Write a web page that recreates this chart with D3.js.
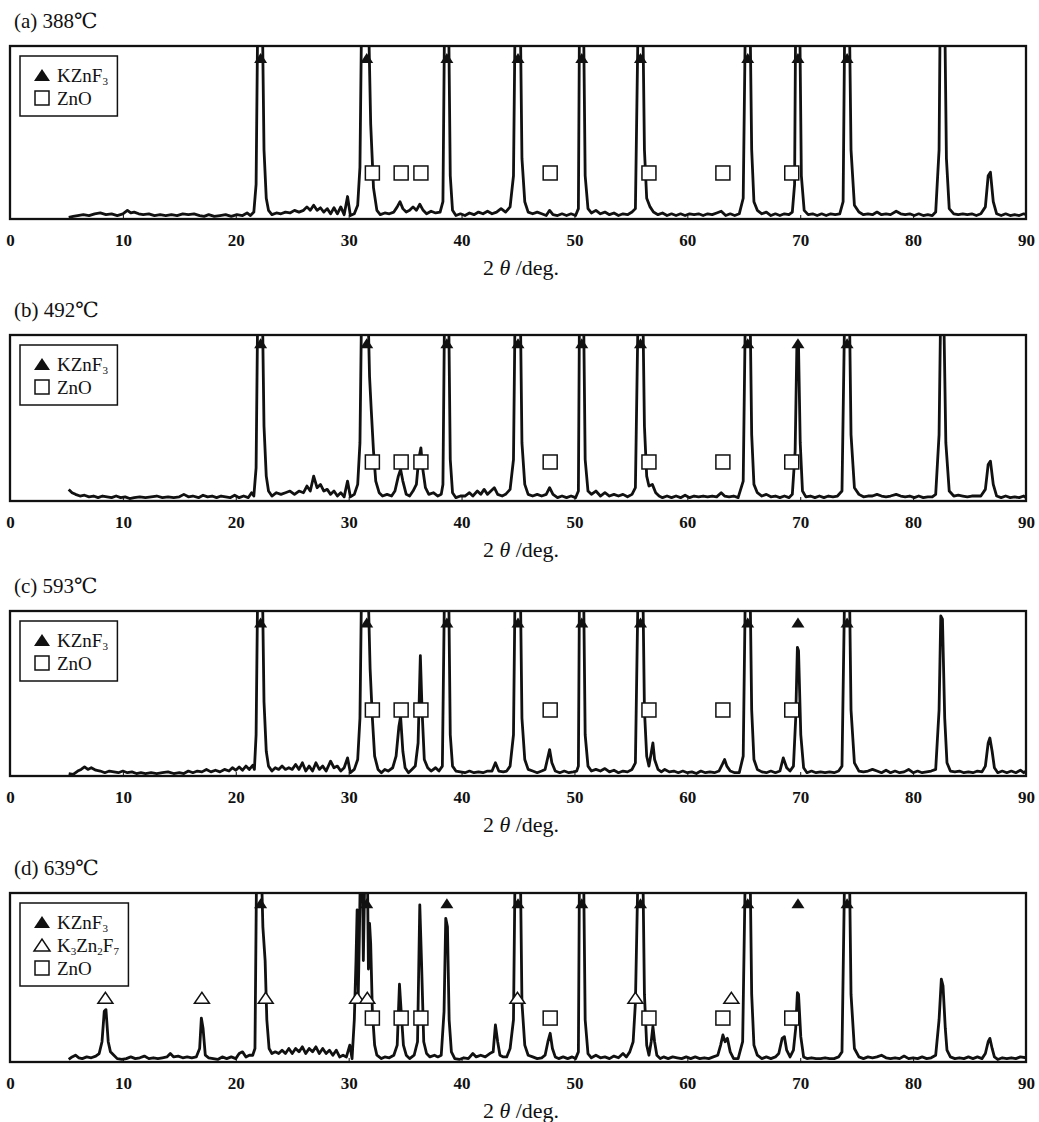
<!DOCTYPE html>
<html>
<head>
<meta charset="utf-8">
<script src="https://cdn.jsdelivr.net/npm/d3@7"></script>
<style>
  body { margin: 0; background: #fff; }
  text { font-family: "Liberation Serif", "DejaVu Serif", serif; fill: #111; }
</style>
</head>
<body>
<svg></svg>
<script>
// XRD patterns: [2theta (deg), intensity (% of frame height)]
var specA = [[5.2,1],[5.6,1.5],[6,2],[6.5,2.5],[7,2],[7.5,3],[8,3.5],[8.5,2.5],[9,3],[9.5,2],[10,3],[10.4,5],[10.7,3.5],[11,4],[11.4,3],[11.8,2.5],[12.3,3],[12.8,2],[13.3,2.5],[13.8,2],[14.3,2.5],[14.8,2],[15.3,3],[15.8,2.5],[16.3,3],[16.8,2],[17.2,1.5],[17.6,2.5],[18.1,1.5],[18.6,2],[19.1,2.5],[19.6,1.5],[20.1,2.5],[20.6,2],[21,3.5],[21.3,2],[21.6,4],
  [21.8,20],[21.95,120],[22.35,120],[22.5,40],[22.7,12],[22.9,5],[23.2,2.5],[23.6,3.5],[24.0,3],[24.4,4],[24.8,3.5],[25.2,5],[25.6,4],[26.0,5],[26.3,7],[26.6,5],[26.9,8],[27.2,5],[27.5,6.5],[27.8,4],[28.1,6],[28.4,3],[28.7,6.5],[29.0,3],[29.3,7],[29.6,2.5],[29.9,13],[30.15,2],[30.5,3],
  [30.8,8],[31.0,30],[31.15,120],[31.75,120],[31.95,55],[32.2,18],[32.5,5],[32.8,2.5],[33.2,3.5],[33.6,3],
  [34.0,4],[34.3,7],[34.55,10],[34.8,6],[35.1,4],[35.4,5],[35.7,7],[36.0,5],[36.3,8.5],[36.6,5],[36.9,3],[37.3,4.5],[37.7,3.5],[38.1,4],[38.35,10],
  [38.5,120],[38.85,120],[39.0,25],[39.2,5],[39.5,2],[39.9,3],[40.3,2],[40.7,3.5],[41.1,2.5],[41.5,4],[41.9,3],[42.3,4.5],[42.7,3],[43.1,4],[43.5,6],[43.9,4],[44.3,7],
  [44.6,25],[44.75,120],[45.2,120],[45.35,35],[45.6,10],[45.9,4],[46.3,3],[46.7,4],[47.1,3],[47.5,2],[47.8,5],[48.1,2.5],[48.5,2],[48.9,3],[49.3,2],[49.7,3],[50.1,2],[50.35,6],
  [50.45,120],[50.8,120],[50.95,25],[51.2,6],[51.5,3.5],[51.9,5],[52.3,3],[52.7,4],[53.1,2.5],[53.5,3.5],[53.9,2],[54.3,3],[54.7,2.5],[55.1,4],[55.4,6],
  [55.65,120],[56.05,120],[56.2,40],[56.4,12],[56.7,7],[57.0,4],[57.4,2.5],[57.8,3.5],[58.2,2],[58.6,3],[59.0,2],[59.4,3],[59.8,2],[60.2,3],[60.6,2.5],[61.0,3],[61.4,2],[61.8,3],[62.2,2.5],[62.6,3.5],[63.0,4.5],[63.4,2],[63.8,3],[64.2,2],[64.6,3],
  [64.95,12],[65.15,120],[65.55,120],[65.7,40],[65.9,10],[66.2,5],[66.6,3],[67.0,4],[67.4,2],[67.8,3],[68.2,2],[68.6,3],[69.0,2.5],[69.3,4],[69.5,20],
  [69.6,120],[69.95,120],[70.1,25],[70.35,5],[70.7,2.5],[71.1,3],[71.5,2],[71.9,3],[72.3,2],[72.7,3],[73.1,2.5],[73.5,3],[73.8,10],
  [73.95,120],[74.35,120],[74.5,40],[74.8,8],[75.2,4],[75.6,2.5],[76.0,3],[76.4,2.5],[76.8,4],[77.2,2.5],[77.6,3],[78.0,2.5],[78.5,4.5],[78.9,3],[79.3,2.5],[79.7,3],[80.1,2],[80.5,3],[80.9,2],[81.3,2.5],[81.7,2],[82.0,4],
  [82.3,40],[82.4,120],[82.8,120],[82.95,35],[83.2,6],[83.6,3],[84.0,2.5],[84.4,3],[84.8,2.5],[85.2,3],[85.6,2],[86.0,3],[86.4,7],[86.65,25],[86.85,27],[87.1,10],[87.4,3],[87.8,2],[88.2,3],[88.6,2],[89.0,2.5],[89.4,2],[89.8,3],[90,2.5]];

var specB = [[5.2,7],[5.5,5],[5.8,4],[6.2,3],[6.6,3.5],[7.0,2.5],[7.4,3],[7.8,2],[8.2,3],[8.6,2.5],[9.0,2],[9.4,3],[9.8,2],[10.2,2.5],[10.6,1.5],[11.0,2],[11.5,2.5],[12.0,2],[12.5,2.5],[13.0,3],[13.5,2],[14.0,2.5],[14.5,2],[15.0,2.5],[15.4,4],[15.8,2.5],[16.2,3],[16.7,2],[17.1,3.5],[17.5,2.5],[17.9,3],[18.3,2],[18.7,3],[19.1,2.5],[19.5,2],[19.9,3.5],[20.3,2],[20.7,3],[21.1,2],[21.4,5],[21.6,3],
  [21.8,20],[21.95,120],[22.35,120],[22.5,45],[22.7,15],[22.9,6],[23.2,3],[23.6,5],[24.0,4],[24.4,5],[24.8,6],[25.2,4],[25.6,6],[26.0,5],[26.3,9],[26.6,6],[26.9,15],[27.2,8],[27.5,10],[27.8,6],[28.1,7],[28.4,4],[28.7,6],[29.0,3],[29.3,5],[29.6,2.5],[29.9,12],[30.15,2.5],[30.5,4],
  [30.8,10],[31.0,35],[31.15,120],[31.7,120],[31.85,75],[32.0,55],[32.2,30],[32.4,12],[32.7,5],[33.0,3],[33.4,4],[33.8,3],
  [34.1,6],[34.4,15],[34.6,19],[34.8,12],[35.1,4],[35.4,3],[35.7,6],[36.0,10],[36.2,25],[36.4,32],[36.55,20],[36.8,8],[37.1,4],[37.5,5],[37.9,3],[38.2,4],[38.35,10],
  [38.5,120],[38.85,120],[39.0,25],[39.2,5],[39.5,2],[39.9,3],[40.3,3],[40.7,5],[41.0,3],[41.4,6],[41.7,4],[42.0,7],[42.3,4],[42.6,6],[42.9,8],[43.2,4],[43.6,3],[43.9,4],[44.3,7],
  [44.6,25],[44.75,120],[45.2,120],[45.35,35],[45.6,10],[45.9,4],[46.3,3],[46.7,4],[47.1,3],[47.5,4],[47.8,8],[48.1,4],[48.5,2],[48.9,3],[49.3,2],[49.7,3],[50.1,2],[50.35,6],
  [50.45,120],[50.8,120],[50.95,25],[51.2,6],[51.5,4],[51.9,6],[52.3,3],[52.7,5],[53.1,3],[53.5,4],[53.9,3],[54.3,4],[54.7,2.5],[55.1,4],[55.4,8],
  [55.65,120],[56.05,120],[56.2,45],[56.4,15],[56.6,9],[56.9,10],[57.2,5],[57.5,3],[57.8,2],[58.2,3],[58.6,2],[59.0,3],[59.4,2],[59.8,3.5],[60.2,2],[60.6,3],[61.0,2.5],[61.4,3],[61.8,2.5],[62.2,3],[62.6,2.5],[63.0,5],[63.3,3],[63.7,2.5],[64.1,3],[64.5,2],
  [64.95,12],[65.15,120],[65.55,120],[65.7,40],[65.9,10],[66.2,5],[66.6,3],[67.0,4],[67.4,2.5],[67.8,3],[68.2,2],[68.6,3],[69.0,2],[69.3,4],[69.55,30],
  [69.7,92],[69.85,93],[70.0,35],[70.2,6],[70.5,2.5],[70.9,3],[71.3,2],[71.7,3],[72.1,2],[72.5,3],[72.9,2.5],[73.3,3],[73.7,6],
  [73.95,120],[74.35,120],[74.5,40],[74.8,8],[75.2,4],[75.6,2.5],[76.0,3],[76.4,3],[76.8,4],[77.2,3],[77.6,2.5],[78.0,3],[78.5,4],[78.9,3],[79.3,2.5],[79.7,3],[80.1,2],[80.5,3],[80.9,2],[81.3,2.5],[81.7,2.5],[82.0,4],
  [82.3,40],[82.45,120],[82.7,120],[82.9,35],[83.2,6],[83.6,3],[84.0,3.5],[84.4,3],[84.8,2.5],[85.2,3],[85.6,3],[86.0,3],[86.4,7],[86.65,22],[86.85,24],[87.1,10],[87.4,3],[87.8,2],[88.2,3],[88.6,2],[89.0,2.5],[89.4,2],[89.8,3],[90,2]];

var specC = [[5.2,1.5],[5.6,1],[6.0,3],[6.3,4],[6.6,5.5],[6.9,4],[7.2,5],[7.6,3.5],[8.0,3],[8.4,2],[8.8,3],[9.2,2.5],[9.6,2],[10.0,3],[10.4,2],[10.8,2.5],[11.2,1.5],[11.6,2],[12.0,1.5],[12.5,2],[13.0,1.5],[13.5,2],[14.0,2.5],[14.5,1.5],[15.0,2],[15.4,1.5],[15.8,3],[16.2,2],[16.6,3],[17.0,2.5],[17.4,4],[17.8,2.5],[18.2,3.5],[18.6,2.5],[19.0,4],[19.4,3],[19.7,5],[20.0,3.5],[20.3,5.5],[20.6,3.5],[20.9,6],[21.2,4],[21.5,6.5],[21.65,4],
  [21.8,25],[21.95,120],[22.35,120],[22.5,45],[22.7,15],[22.9,6],[23.2,3],[23.5,5],[23.8,4],[24.1,6],[24.4,4],[24.7,5],[25.0,4],[25.3,7],[25.6,4],[25.9,8],[26.2,3],[26.5,6],[26.8,3],[27.1,8],[27.4,4],[27.7,6],[28.0,3],[28.4,9],[28.7,5],[29.0,6],[29.3,3],[29.6,5],[29.9,11],[30.15,2],[30.5,4],
  [30.8,10],[31.0,35],[31.15,120],[31.7,120],[31.9,65],[32.1,35],[32.3,12],[32.6,4],[32.9,2],[33.2,4],[33.5,3],
  [33.9,5],[34.2,12],[34.45,30],[34.6,36],[34.8,15],[35.0,5],[35.3,2],[35.6,4],[35.9,6],[36.15,20],[36.35,73],[36.5,40],[36.7,10],[37.0,5],[37.3,3],[37.7,5],[38.0,3],[38.3,6],
  [38.5,120],[38.85,120],[39.0,25],[39.2,6],[39.5,3],[39.9,2.5],[40.3,2],[40.7,3],[41.1,2],[41.5,2.5],[41.9,2],[42.3,3],[42.7,3],[43.0,8],[43.3,3],[43.7,2.5],[44.0,3],[44.3,6],
  [44.6,25],[44.75,120],[45.2,120],[45.35,35],[45.6,10],[45.9,4],[46.3,3],[46.7,2],[47.1,3],[47.4,4],[47.6,10],[47.8,16],[48.0,8],[48.3,3],[48.7,2],[49.1,3],[49.5,2],[49.9,2.5],[50.2,3],[50.35,6],
  [50.45,120],[50.8,120],[50.95,25],[51.2,6],[51.5,3],[51.9,4],[52.3,3],[52.7,4.5],[53.1,2.5],[53.5,3.5],[53.9,2],[54.3,3],[54.7,2.5],[55.1,4],[55.4,8],
  [55.65,120],[56.05,120],[56.2,40],[56.4,12],[56.6,6],[56.8,14],[56.95,20],[57.1,10],[57.4,4],[57.7,2.5],[58.0,4],[58.4,2.5],[58.8,3],[59.2,2],[59.6,3],[60.0,2],[60.4,2.5],[60.8,1.5],[61.2,3],[61.6,2],[62.0,2.5],[62.4,2],[62.8,3],[63.1,7],[63.3,10],[63.5,6],[63.8,3],[64.2,2],[64.6,2],
  [64.95,12],[65.15,120],[65.55,120],[65.7,40],[65.9,10],[66.2,4],[66.6,2.5],[67.0,2],[67.4,3],[67.8,2],[68.2,3],[68.5,11],[68.8,5],[69.1,3],[69.4,6],[69.6,35],
  [69.75,78],[69.85,76],[70.05,25],[70.3,5],[70.6,2],[71.0,3],[71.4,2],[71.8,2.5],[72.2,2],[72.6,2.5],[73.0,2],[73.4,3],[73.7,6],
  [73.95,120],[74.35,120],[74.5,40],[74.8,8],[75.2,3],[75.6,2.5],[76.0,3],[76.4,4],[76.8,3],[77.2,2],[77.6,3.5],[78.0,2],[78.4,3],[78.8,2],[79.2,2.5],[79.6,4],[80.0,2],[80.4,3],[80.8,2],[81.2,2.5],[81.6,3],[82.0,4],
  [82.3,40],[82.45,97],[82.6,95],[82.8,35],[83.0,8],[83.3,3],[83.7,2.5],[84.1,3],[84.5,2],[84.9,2.5],[85.3,2],[85.7,3],[86.1,2.5],[86.4,6],[86.65,20],[86.8,23],[87.0,15],[87.2,5],[87.5,2],[87.9,3],[88.3,2],[88.7,3],[89.1,2],[89.5,3.5],[89.8,2],[90,3]];

var specD = [[5.2,1.5],[5.5,3],[5.8,4],[6.1,2.5],[6.4,2],[6.8,3],[7.2,2.5],[7.6,3.5],[7.9,5],[8.15,12],[8.35,30],[8.5,31],[8.7,12],[8.9,6],[9.2,4],[9.5,2],[9.9,1.5],[10.3,2],[10.7,3],[11.1,2],[11.5,2.5],[11.9,3.5],[12.3,2],[12.7,2.5],[13.1,2],[13.5,2.5],[13.9,3],[14.2,5],[14.5,3],[14.9,3.5],[15.3,2.5],[15.7,3],[16.1,2.5],[16.5,3],[16.8,8],[16.95,26],[17.1,20],[17.3,4],[17.6,2.5],[18.0,2],[18.4,1.5],[18.8,3],[19.2,2],[19.6,3],[20.0,2],[20.3,5],[20.6,6],[20.9,3],[21.2,4],[21.5,4],[21.7,8],
  [21.85,120],[22.25,120],[22.4,80],[22.6,60],[22.75,25],[22.95,8],[23.2,5],[23.5,6],[23.8,5],[24.1,7],[24.4,5],[24.7,8],[25.0,5],[25.3,8],[25.6,6],[25.9,9],[26.2,5],[26.5,8],[26.8,6],[27.1,9],[27.4,5],[27.7,8],[28.0,5],[28.3,7],[28.6,4],[28.9,7],[29.2,3],[29.5,4],[29.8,3],[30.1,10],[30.3,2],[30.5,25],
  [30.65,60],[30.75,90],[30.85,40],[30.95,75],[31.05,120],[31.2,120],[31.3,60],[31.45,120],[31.65,120],[31.75,55],[31.85,82],[31.95,70],[32.1,30],[32.3,10],[32.5,4],[32.9,2],[33.2,3],[33.6,2.5],[34.0,4],[34.3,10],[34.5,46],[34.65,30],[34.85,10],[35.1,4],[35.4,2],[35.8,4],[36.1,12],[36.3,93],[36.45,60],[36.65,12],[36.9,5],[37.2,3],[37.6,4],[37.9,3],[38.2,4],[38.45,30],[38.6,85],[38.75,80],[38.9,25],[39.1,6],[39.4,2],[39.8,1.5],[40.2,2.5],[40.6,2],[41.0,5],[41.3,3],[41.7,4],[42.1,3],[42.5,5],[42.8,6],[43.0,22],[43.2,12],[43.4,4],[43.7,3],[44.0,3],[44.3,8],
  [44.6,25],[44.75,120],[45.2,120],[45.35,35],[45.6,10],[45.9,4],[46.3,3],[46.7,2],[47.1,2.5],[47.4,4],[47.65,12],[47.85,17],[48.05,8],[48.3,3],[48.6,2],[49.0,3],[49.4,2],[49.8,3],[50.1,2],[50.35,6],
  [50.45,120],[50.8,120],[50.95,25],[51.2,5],[51.5,2.5],[51.9,4],[52.3,2.5],[52.7,3],[53.1,2],[53.5,3.5],[53.9,2.5],[54.3,5],[54.6,3],[54.9,6],[55.2,12],[55.4,35],
  [55.65,120],[56.05,120],[56.2,40],[56.4,10],[56.6,4],[56.8,12],[56.95,21],[57.1,12],[57.3,4],[57.6,2],[57.9,3],[58.3,2],[58.7,3],[59.1,2.5],[59.5,2],[59.9,3],[60.3,2],[60.7,3],[61.1,2],[61.5,2.5],[61.9,2],[62.3,3],[62.7,4],[62.95,10],[63.15,16],[63.35,12],[63.55,14],[63.8,6],[64.1,2],[64.5,2],
  [64.9,12],[65.15,120],[65.55,120],[65.7,40],[65.9,10],[66.2,4],[66.6,2],[67.0,3],[67.4,2],[67.8,3],[68.1,5],[68.4,14],[68.6,15],[68.8,7],[69.1,3],[69.4,7],[69.6,20],
  [69.75,41],[69.85,40],[70.05,15],[70.3,3],[70.6,2],[71.0,2.5],[71.4,2],[71.8,2],[72.2,2.5],[72.6,2],[73.0,2],[73.4,3],[73.7,6],
  [73.95,120],[74.35,120],[74.5,40],[74.8,8],[75.2,3],[75.6,2],[76.0,3],[76.4,2.5],[76.8,3],[77.2,4],[77.6,2.5],[78.0,2],[78.4,2.5],[78.8,2],[79.2,3.5],[79.6,2],[80.0,2.5],[80.4,2],[80.8,3],[81.2,2],[81.6,2.5],[82.0,4],
  [82.3,25],[82.5,49],[82.65,45],[82.85,20],[83.0,7],[83.3,3],[83.7,2],[84.1,2.5],[84.5,2],[84.9,3],[85.3,2],[85.7,3],[86.1,2],[86.4,5],[86.65,12],[86.8,14],[87.0,8],[87.2,3],[87.5,1.5],[87.9,2.5],[88.3,2],[88.7,2.5],[89.1,2],[89.5,3],[90,2.5]];

// phase marker positions (2theta)
var kznf3Pos = [22.2, 31.6, 38.7, 45.0, 50.65, 55.85, 65.35, 69.8, 74.15];
var znoPos = [32.1, 34.65, 36.4, 47.85, 56.6, 63.15, 69.25];
var k3zn2f7Pos = [8.45, 17.0, 22.65, 30.75, 31.65, 44.95, 55.4, 63.9];

var titles = ["(a) 388℃", "(b) 492℃", "(c) 593℃", "(d) 639℃"];
var xTicks = [0, 10, 20, 30, 40, 50, 60, 70, 80, 90];

var width = 1039, height = 1122;
var svg = d3.select("svg").attr("width", width).attr("height", height);

var x = d3.scaleLinear().domain([0, 90]).range([10, 1026]);

var phases = {
  kznf3: {pos: kznf3Pos, name: [["KZnF"], ["3", 1]]},
  k3zn2f7: {pos: k3zn2f7Pos, name: [["K"], ["3", 1], ["Zn"], ["2", 1], ["F"], ["7", 1]]},
  zno: {pos: znoPos, name: [["ZnO"]]}
};

// layout per panel; marker levels are in % of frame height
var panels = [
  {spec: specA, top: 46, bottom: 219, levels: {kznf3: 93, zno: 26.6}, legend: ["kznf3", "zno"]},
  {spec: specB, top: 335, bottom: 501, levels: {kznf3: 95, zno: 23.5}, legend: ["kznf3", "zno"]},
  {spec: specC, top: 611, bottom: 776, levels: {kznf3: 93, zno: 40}, legend: ["kznf3", "zno"]},
  {spec: specD, top: 893, bottom: 1062, levels: {kznf3: 94, k3zn2f7: 38, zno: 26}, legend: ["kznf3", "k3zn2f7", "zno"]}
];

function tri(w, h) {
  return "M" + (-w/2) + "," + (h/2) + "L" + (w/2) + "," + (h/2) + "L0," + (-h/2) + "Z";
}

function drawMarker(g, type, cx, cy, big) {
  if (type == "kznf3") {
    g.append("path").attr("d", tri(big ? 16 : 13, big ? 12 : 10))
      .attr("transform", "translate(" + cx + "," + cy + ")")
      .attr("fill", "#111");
  } else if (type == "k3zn2f7") {
    g.append("path").attr("d", tri(big ? 16 : 15, big ? 12 : 11))
      .attr("transform", "translate(" + cx + "," + cy + ")")
      .attr("fill", "#fff").attr("stroke", "#111").attr("stroke-width", 1.5);
  } else {
    var s = 14;
    g.append("rect").attr("x", cx - s/2).attr("y", cy - s/2)
      .attr("width", s).attr("height", s)
      .attr("fill", "#fff").attr("stroke", "#111").attr("stroke-width", 1.5);
  }
}

panels.forEach(function(p, i) {
  var y = d3.scaleLinear().domain([0, 100]).range([p.bottom, p.top]);
  var g = svg.append("g");

  g.append("clipPath").attr("id", "clip" + i)
    .append("rect")
    .attr("x", x(0)).attr("y", p.top)
    .attr("width", x(90) - x(0)).attr("height", p.bottom - p.top);

  var line = d3.line()
    .x(function(d) { return x(d[0]); })
    .y(function(d) { return y(d[1]); });

  g.append("path")
    .datum(p.spec)
    .attr("clip-path", "url(#clip" + i + ")")
    .attr("d", line)
    .attr("fill", "none")
    .attr("stroke", "#111")
    .attr("stroke-width", 2.8)
    .attr("stroke-linejoin", "round");

  // frame
  g.append("rect")
    .attr("x", x(0)).attr("y", p.top)
    .attr("width", x(90) - x(0)).attr("height", p.bottom - p.top)
    .attr("fill", "none").attr("stroke", "#111").attr("stroke-width", 2.3);

  // axis: short inward ticks + bold labels
  var ax = g.append("g")
    .attr("transform", "translate(0," + p.bottom + ")")
    .call(d3.axisBottom(x).tickValues(xTicks).tickSizeInner(-4).tickSizeOuter(0).tickPadding(14.5));
  ax.select(".domain").remove();
  ax.selectAll(".tick line").attr("stroke", "#111").attr("stroke-width", 1);
  ax.selectAll(".tick text")
    .attr("fill", "#111")
    .style("font-family", "'Liberation Serif', serif")
    .style("font-weight", "bold")
    .style("font-size", "17px");

  // phase markers
  var mg = g.append("g");
  Object.keys(p.levels).forEach(function(k) {
    phases[k].pos.forEach(function(v) {
      drawMarker(mg, k, x(v), y(p.levels[k]), false);
    });
  });

  // legend
  var lg = g.append("g");
  var boxTop = p.top + 10, boxLeft = 20, rowGap = 23;
  var n = p.legend.length;
  var box = lg.append("rect")
    .attr("x", boxLeft).attr("y", boxTop)
    .attr("height", 19 + (n - 1) * rowGap + 18)
    .attr("fill", "#fff").attr("stroke", "#111").attr("stroke-width", 1.5);
  var maxRight = 0;
  p.legend.forEach(function(k, j) {
    var cy = boxTop + 19 + j * rowGap;
    drawMarker(lg, k, boxLeft + 22, cy, true);
    var t = lg.append("text")
      .attr("x", boxLeft + 37).attr("y", cy + 6.5)
      .style("font-size", "19px");
    var shifted = false;
    phases[k].name.forEach(function(seg) {
      var ts = t.append("tspan").text(seg[0]);
      if (seg[1]) {
        ts.attr("dy", shifted ? 0 : 3.5).style("font-size", "11px");
        shifted = true;
      } else if (shifted) {
        ts.attr("dy", -3.5);
        shifted = false;
      }
    });
    var bb = t.node().getBBox();
    maxRight = Math.max(maxRight, bb.x + bb.width);
  });
  box.attr("width", maxRight - boxLeft + 9);

  // title
  g.append("text")
    .attr("x", 14).attr("y", p.top - 18)
    .style("font-size", "21px")
    .text(titles[i]);

  // x label
  var xl = g.append("text")
    .attr("x", 521).attr("y", p.bottom + 56)
    .attr("text-anchor", "middle")
    .style("font-size", "22px");
  xl.append("tspan").text("2 ");
  xl.append("tspan").style("font-style", "italic").text("θ");
  xl.append("tspan").text(" /deg.");
});
</script>
</body>
</html>
